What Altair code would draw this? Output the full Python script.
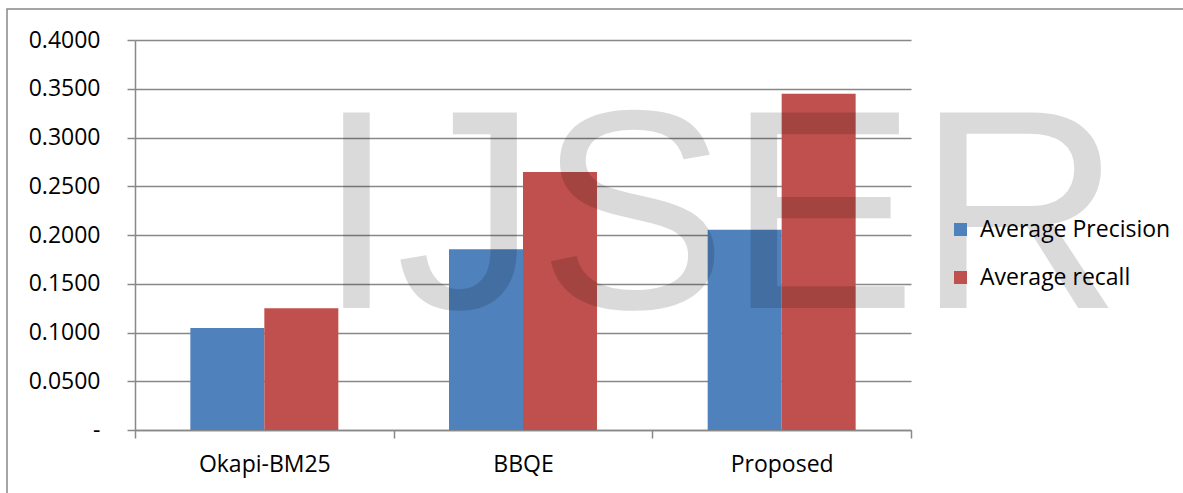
import altair as alt
import pandas as pd

categories = ["Okapi-BM25", "BBQE", "Proposed"]
series = ["Average Precision", "Average recall"]
precision = [0.1045, 0.1855, 0.2055]
recall = [0.1250, 0.2645, 0.3450]
y_ticks = [0, 0.05, 0.10, 0.15, 0.20, 0.25, 0.30, 0.35, 0.40]
watermark = ["IJSER"]

rows = []
for i, c in enumerate(categories):
    rows.append({"category": c, "series": series[0], "value": precision[i]})
    rows.append({"category": c, "series": series[1], "value": recall[i]})
df = pd.DataFrame(rows)

FONT = "Open Sans"
GRAY = "#888888"
FS = 23

bars = alt.Chart(df).mark_bar(opacity=1).encode(
    x=alt.X(
        "category:N",
        sort=categories,
        scale=alt.Scale(paddingInner=0, paddingOuter=0),
        axis=alt.Axis(
            title=None, labelAngle=0, tickBand="extent", tickSize=8,
            tickColor=GRAY, domainColor=GRAY, domainWidth=1.5, tickWidth=1.5,
            labelFont=FONT, labelFontSize=FS, labelColor="#000000",
            labelPadding=15, grid=False,
        ),
    ),
    xOffset=alt.XOffset(
        "series:N", sort=series,
        scale=alt.Scale(paddingInner=0, paddingOuter=0.748),
    ),
    y=alt.Y(
        "value:Q",
        scale=alt.Scale(domain=[0, 0.4], nice=False),
        axis=alt.Axis(
            title=None, values=y_ticks,
            labelExpr="datum.value === 0 ? '-' : format(datum.value, '.4f')",
            tickSize=8, tickColor=GRAY, domainColor=GRAY, domainWidth=1.5,
            tickWidth=1.5, gridColor=GRAY, gridWidth=1.5, grid=True,
            labelFont=FONT, labelFontSize=FS, labelColor="#000000",
            labelPadding=27,
        ),
    ),
    color=alt.Color(
        "series:N",
        sort=series,
        scale=alt.Scale(domain=series, range=["#4f81bd", "#c0504d"]),
        legend=alt.Legend(
            title=None, orient="none", legendX=814, legendY=178,
            symbolType="square", symbolSize=169, symbolStrokeWidth=0,
            labelFont=FONT, labelFontSize=FS, labelColor="#000000",
            labelOffset=8, rowPadding=24, symbolOpacity=1, labelLimit=0,
        ),
    ),
)

wm = alt.Chart(pd.DataFrame({"t": watermark})).mark_text(
    font="Liberation Sans", fontSize=284, align="left", baseline="alphabetic",
    color="#000000", opacity=0.14,
).encode(
    text="t:N",
    x=alt.value(182),
    y=alt.value(268),
)

border = alt.Chart(pd.DataFrame({"t": watermark})).mark_rect(
    fill=None, stroke=GRAY, strokeWidth=1.5,
).encode(
    x=alt.value(-128), x2=alt.value(1100),
    y=alt.value(-31), y2=alt.value(500),
)

chart = alt.layer(border, bars, wm).properties(
    width=776, height=390,
    padding={"left": 135, "top": 40, "right": 272, "bottom": 63},
    autosize=alt.AutoSizeParams(type="none"),
    background="#ffffff",
).configure_view(stroke=None)

chart.save("out.html", embed_options={"renderer": "svg", "actions": False})
